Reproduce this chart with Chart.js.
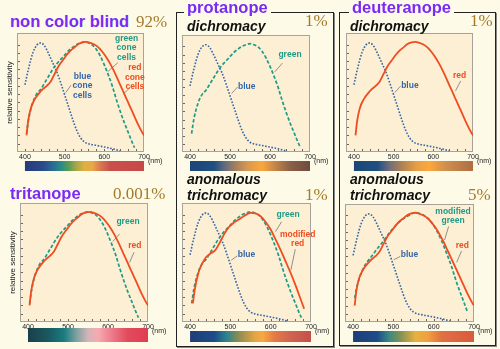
<!DOCTYPE html>
<html>
<head>
<meta charset="utf-8">
<script src="https://cdn.jsdelivr.net/npm/chart.js@4.4.1/dist/chart.umd.min.js"></script>
<style>
  html, body { margin: 0; padding: 0; background: #fdfbe8; }
  #page { position: relative; width: 500px; height: 349px; overflow: hidden; background: #fdfbe8;
          font-family: "Liberation Sans", Arial, sans-serif; }
  canvas { position: absolute; }
  .box { position: absolute; box-sizing: border-box; border: 1px solid #222; box-shadow: 1px 1px 0 #888; }
  .t { position: absolute; white-space: nowrap; line-height: 1; }
  .name { font-weight: bold; font-size: 16.5px; color: #7a2af5; }
  .kind { font-weight: bold; font-style: italic; font-size: 14px; color: #111; }
  .pct { font-family: "Liberation Serif", "Times New Roman", serif; font-size: 17px; color: #a47a2a; }
  .legend { background: #fdfbe8; padding: 0 3px; }
</style>
</head>
<body>
<div id="page">
  <div class="box" style="left:176px;top:12px;width:158px;height:335px"></div>
  <div class="box" style="left:339px;top:12px;width:157px;height:334px"></div>
</div>
<script>
// wavelength (nm) / relative sensitivity
const blueNm  = [400, 410, 420, 430, 440, 450, 460, 470, 480, 490, 500, 510, 520, 530, 540, 550, 560, 580, 600, 620, 640];
const blueVal = [0.61, 0.77, 0.90, 0.97, 0.99, 0.96, 0.89, 0.81, 0.73, 0.63, 0.52, 0.41, 0.30, 0.20, 0.13, 0.09, 0.075, 0.06, 0.045, 0.03, 0.01];

const greenNm  = [404, 410, 420, 430, 440, 450, 460, 470, 480, 490, 500, 510, 520, 530, 540, 550, 560, 570, 580, 590, 600, 610, 620, 630, 640, 650, 660, 670, 676];
const greenVal = [0.17, 0.31, 0.45, 0.53, 0.57, 0.63, 0.69, 0.75, 0.80, 0.84, 0.88, 0.92, 0.95, 0.975, 0.99, 1.0, 0.99, 0.97, 0.93, 0.87, 0.79, 0.70, 0.60, 0.48, 0.37, 0.27, 0.18, 0.09, 0.04];

const redNm  = [404, 408, 415, 425, 435, 445, 455, 465, 475, 485, 495, 505, 515, 525, 535, 545, 555, 565, 575, 585, 595, 605, 615, 625, 635, 645, 655, 665, 675, 685, 695, 700];
const redVal = [0.15, 0.28, 0.40, 0.48, 0.53, 0.57, 0.60, 0.64, 0.71, 0.78, 0.83, 0.88, 0.92, 0.95, 0.98, 0.995, 1.0, 0.99, 0.975, 0.95, 0.91, 0.86, 0.80, 0.73, 0.65, 0.57, 0.49, 0.41, 0.33, 0.25, 0.18, 0.15];

// modified red (protanomaly)
const modRedNm  = [407, 412, 421, 430, 440, 450, 462, 475, 485, 496, 508, 521, 535, 550, 562, 575, 587, 600, 612, 625, 637, 650, 662, 673, 683];
const modRedVal = [0.17, 0.30, 0.45, 0.53, 0.59, 0.62, 0.65, 0.73, 0.80, 0.86, 0.90, 0.93, 0.965, 0.99, 0.985, 0.96, 0.91, 0.84, 0.75, 0.65, 0.55, 0.44, 0.33, 0.22, 0.12];

// modified green (deuteranomaly)
const modGreenNm  = [404, 410, 423, 435, 448, 460, 473, 485, 498, 510, 523, 538, 553, 567, 582, 595, 607, 620, 632, 645, 657, 670, 683];
const modGreenVal = [0.22, 0.33, 0.47, 0.55, 0.61, 0.67, 0.73, 0.79, 0.85, 0.90, 0.94, 0.975, 1.0, 0.99, 0.96, 0.91, 0.84, 0.74, 0.63, 0.50, 0.36, 0.23, 0.10];

const xLabels = [400, 500, 600, 700];

// spectrum bar colours as seen by each viewer
const SPEC = {
  normal:   [[400,'#283a78'],[445,'#2a4a8c'],[470,'#2a6a92'],[490,'#2a8a86'],[510,'#5a9a56'],[530,'#a8a848'],[550,'#e0b040'],[570,'#e8a848'],[590,'#d87850'],[615,'#c8504c'],[700,'#c84848']],
  protan:   [[400,'#1c4676'],[460,'#1f4f82'],[490,'#6a6e7c'],[515,'#a8805e'],[545,'#d89a50'],[580,'#fca63c'],[610,'#c88848'],[650,'#8c6048'],[700,'#6e4a3e']],
  deutan:   [[400,'#1a4676'],[460,'#1f4f82'],[490,'#706e7a'],[520,'#b08054'],[560,'#e8a044'],[590,'#fca83c'],[630,'#d0904e'],[700,'#ae6e42']],
  tritan:   [[400,'#1a4048'],[450,'#1a5860'],[490,'#1a7c80'],[520,'#7aa0a0'],[550,'#d4b4b8'],[575,'#f6aab2'],[610,'#ec7a8a'],[650,'#e24a5c'],[700,'#e03c52']],
  protanom: [[400,'#1e3e78'],[460,'#1e4c88'],[490,'#2c8290'],[520,'#8a8c52'],[560,'#e4a444'],[580,'#f8a840'],[610,'#e27a48'],[650,'#d06252'],[700,'#c4504a']],
  deutanom: [[400,'#1e3e78'],[460,'#1e4c88'],[490,'#3a8a82'],[520,'#8a9252'],[555,'#e8b040'],[585,'#f0a040'],[620,'#e07042'],[700,'#d85a40']]
};

const INK = { blue: '#3566a6', green: '#1f9a86', red: '#ef4c20' };

function curve(kind, nm, val) {
  const style = {
    blue:  { borderWidth: 1.6, borderDash: [1.6, 1.6] },
    green: { borderWidth: 1.7, borderDash: [3.5, 2] },
    red:   { borderWidth: 1.8, borderDash: [] }
  }[kind];
  return Object.assign({
    data: nm.map((x, i) => ({ x: x, y: val[i] })),
    borderColor: INK[kind],
    pointRadius: 0,
    fill: false,
    cubicInterpolationMode: 'monotone'
  }, style);
}

const panels = [
  { plot: [17, 33, 144, 152], bar: [161, 171], ylabel: true, spec: SPEC.normal,
    curves: [['red', redNm, redVal], ['green', greenNm, greenVal], ['blue', blueNm, blueVal]],
    labels: [
      { c: 'green', text: ['green', 'cone', 'cells'], x: 656, y: [1.03, 0.95, 0.86], lead: [634, 0.81, 608, 0.727] },
      { c: 'red', text: ['red', 'cone', 'cells'], x: 677, y: [0.764, 0.676, 0.59], lead: [665, 0.585, 649, 0.53] },
      { c: 'blue', text: ['blue', 'cone', 'cells'], x: 545, y: [0.68, 0.60, 0.51], lead: [516, 0.606, 503, 0.54] }
    ] },
  { plot: [182, 35, 310, 152], bar: [161, 171], spec: SPEC.protan,
    curves: [['green', greenNm, greenVal], ['blue', blueNm, blueVal]],
    labels: [
      { c: 'green', text: ['green'], x: 650, y: [0.90], lead: [631, 0.82, 612, 0.74] },
      { c: 'blue', text: ['blue'], x: 542, y: [0.60], lead: [519, 0.60, 504, 0.54] }
    ] },
  { plot: [346, 33, 473, 152], bar: [161, 171], spec: SPEC.deutan,
    curves: [['red', redNm, redVal], ['blue', blueNm, blueVal]],
    labels: [
      { c: 'red', text: ['red'], x: 666, y: [0.69], lead: [669, 0.645, 656, 0.555] },
      { c: 'blue', text: ['blue'], x: 541, y: [0.60], lead: [518, 0.60, 503, 0.54] }
    ] },
  { plot: [20, 203, 148, 322], bar: [328, 342], ylabel: true, spec: SPEC.tritan,
    curves: [['red', redNm, redVal], ['green', greenNm, greenVal]],
    labels: [
      { c: 'green', text: ['green'], x: 650, y: [0.913], lead: [629, 0.80, 612, 0.73] },
      { c: 'red', text: ['red'], x: 667, y: [0.694], lead: [665, 0.633, 654, 0.54] }
    ] },
  { plot: [182, 203, 311, 322], bar: [331, 342], spec: SPEC.protanom,
    curves: [['red', modRedNm, modRedVal], ['green', greenNm, greenVal], ['blue', blueNm, blueVal]],
    labels: [
      { c: 'green', text: ['green'], x: 643, y: [0.97], lead: [627, 0.91, 612, 0.82] },
      { c: 'red', text: ['modified', 'red'], x: 667, y: [0.79, 0.71], lead: [661, 0.66, 650, 0.47] },
      { c: 'blue', text: ['blue'], x: 540, y: [0.61], lead: [517, 0.60, 502, 0.56] }
    ] },
  { plot: [345, 204, 474, 322], bar: [331, 342], spec: SPEC.deutanom,
    curves: [['red', redNm, redVal], ['green', modGreenNm, modGreenVal], ['blue', blueNm, blueVal]],
    labels: [
      { c: 'green', text: ['modified', 'green'], x: 648, y: [1.006, 0.927], lead: [637, 0.874, 627, 0.75] },
      { c: 'red', text: ['red'], x: 671, y: [0.70], lead: [669, 0.65, 657, 0.546] },
      { c: 'blue', text: ['blue'], x: 540, y: [0.614], lead: [517, 0.60, 501, 0.57] }
    ] }
];

const titles = [
  ['name', 'non color blind', 10, 13], ['pct', '92%', 136, 13],
  ['name legend', 'protanope', 184, -1], ['kind', 'dichromacy', 187, 19], ['pct', '1%', 305, 12],
  ['name legend', 'deuteranope', 349, -1], ['kind', 'dichromacy', 350, 19], ['pct', '1%', 470, 12],
  ['name', 'tritanope', 10, 185], ['pct', '0.001%', 113, 185],
  ['kind', 'anomalous', 187, 172], ['kind', 'trichromacy', 187, 188], ['pct', '1%', 305, 186],
  ['kind', 'anomalous', 350, 172], ['kind', 'trichromacy', 350, 188], ['pct', '5%', 468, 186]
];

const deco = {
  id: 'deco',
  beforeDatasetsDraw(chart) {
    const { ctx, chartArea: ca, scales: { x, y } } = chart;
    ctx.save();
    ctx.fillStyle = '#fcefd4';
    ctx.fillRect(ca.left, ca.top, ca.width, ca.height);
    // inward tick marks
    ctx.strokeStyle = '#666';
    ctx.lineWidth = 1;
    ctx.beginPath();
    x.ticks.forEach(t => {
      if (t.value <= x.min || t.value >= x.max) return;
      const px = Math.round(x.getPixelForValue(t.value)) + 0.5;
      ctx.moveTo(px, ca.bottom); ctx.lineTo(px, ca.bottom - 3);
    });
    y.ticks.forEach(t => {
      if (t.value <= y.min || t.value >= y.max) return;
      const py = Math.round(y.getPixelForValue(t.value)) + 0.5;
      ctx.moveTo(ca.left, py); ctx.lineTo(ca.left + 3, py);
    });
    ctx.stroke();
    ctx.strokeStyle = '#a8a39a';
    ctx.strokeRect(ca.left + 0.5, ca.top + 0.5, ca.width - 1, ca.height - 1);
    ctx.restore();
  },
  afterDraw(chart, args, o) {
    const { ctx, chartArea: ca, scales: { x, y } } = chart;
    ctx.save();
    // curve labels with leader lines
    ctx.font = 'bold 8.5px "Liberation Sans", Arial, sans-serif';
    ctx.textAlign = 'center';
    ctx.textBaseline = 'middle';
    o.labels.forEach(l => {
      ctx.strokeStyle = '#777';
      ctx.lineWidth = 0.8;
      ctx.beginPath();
      ctx.moveTo(x.getPixelForValue(l.lead[0]), y.getPixelForValue(l.lead[1]));
      ctx.lineTo(x.getPixelForValue(l.lead[2]), y.getPixelForValue(l.lead[3]));
      ctx.stroke();
      ctx.fillStyle = INK[l.c];
      l.text.forEach((s, i) => ctx.fillText(s, x.getPixelForValue(l.x), y.getPixelForValue(l.y[i])));
    });
    // spectrum bar
    const x0 = x.getPixelForValue(400), x1 = x.getPixelForValue(700);
    const g = ctx.createLinearGradient(x0, 0, x1, 0);
    o.spec.forEach(([nm, c]) => g.addColorStop((nm - 400) / 300, c));
    ctx.fillStyle = g;
    ctx.fillRect(x0, o.barTop, x1 - x0, o.barBottom - o.barTop);
    // unit
    ctx.fillStyle = '#222';
    ctx.font = '7px "Liberation Sans", Arial, sans-serif';
    ctx.textAlign = 'left';
    ctx.fillText('(nm)', x1 + 4, ca.bottom + 9);
    if (o.ylabel) {
      ctx.translate(ca.left - 7, (ca.top + ca.bottom) / 2);
      ctx.rotate(-Math.PI / 2);
      ctx.textAlign = 'center';
      ctx.font = '8px "Liberation Sans", Arial, sans-serif';
      ctx.fillText('relative sensitivity', 0, 0);
    }
    ctx.restore();
  }
};

const page = document.getElementById('page');

panels.forEach(p => {
  const [L, T, R, B] = p.plot;
  const cl = L - 14, ct = T - 2;
  const cw = R + 22 - cl, ch = p.bar[1] + 2 - ct;
  const cv = document.createElement('canvas');
  cv.width = cw; cv.height = ch;
  cv.style.left = cl + 'px'; cv.style.top = ct + 'px';
  page.appendChild(cv);

  new Chart(cv.getContext('2d'), {
    type: 'line',
    data: { datasets: p.curves.map(c => curve(c[0], c[1], c[2])) },
    options: {
      responsive: false,
      animation: false,
      layout: { padding: { left: 14, top: 2, right: cw - (R - cl), bottom: ch - (B - ct) - 10 } },
      scales: {
        x: {
          type: 'linear', min: 380, max: 700,
          grid: { display: false, drawTicks: false },
          border: { display: false },
          ticks: {
            stepSize: 20, autoSkip: false, maxRotation: 0, padding: 1,
            color: '#222', font: { size: 7, family: '"Liberation Sans", Arial, sans-serif' },
            callback: v => xLabels.includes(v) ? String(v) : ''
          },
          afterFit: s => { s.height = 10; }
        },
        y: {
          min: 0, max: 1.08,
          grid: { display: false, drawTicks: false },
          border: { display: false },
          ticks: { display: false, stepSize: 0.075 }
        }
      },
      plugins: {
        legend: { display: false },
        tooltip: { enabled: false },
        deco: { labels: p.labels, spec: p.spec, ylabel: !!p.ylabel, barTop: p.bar[0] - ct, barBottom: p.bar[1] - ct }
      }
    },
    plugins: [deco]
  });
});

titles.forEach(([cls, text, left, top]) => {
  const d = document.createElement('div');
  d.className = 't ' + cls;
  d.textContent = text;
  d.style.left = left + 'px';
  d.style.top = top + 'px';
  page.appendChild(d);
});
</script>
</body>
</html>
